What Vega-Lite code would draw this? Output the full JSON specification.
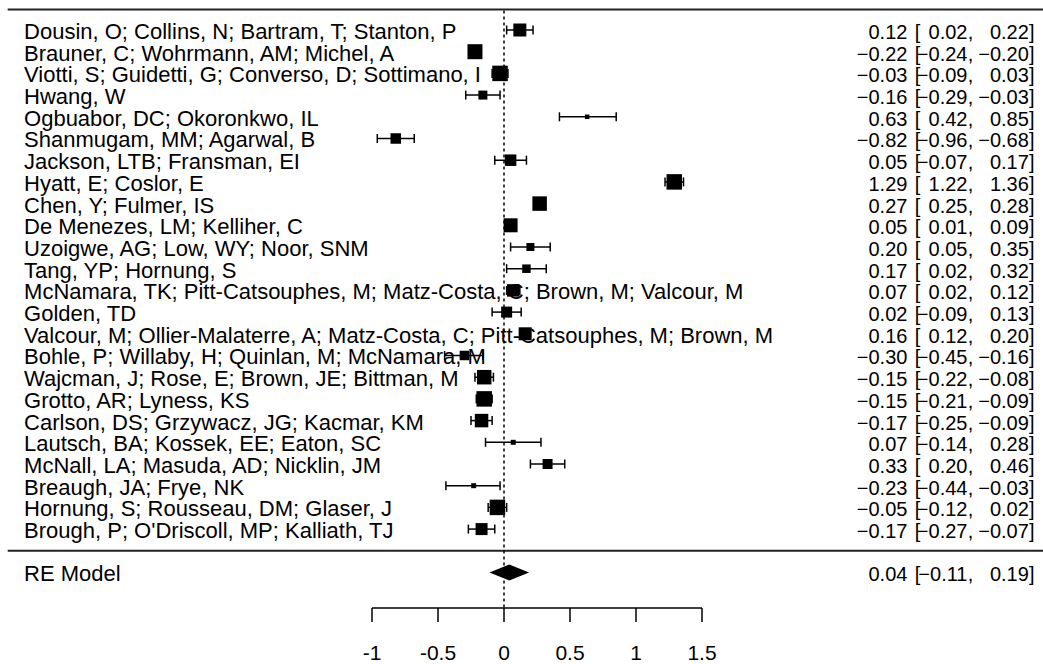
{
  "$schema": "https://vega.github.io/schema/vega-lite/v6.json",
  "width": 1043,
  "height": 664,
  "padding": 0,
  "autosize": {"type": "none"},
  "background": "white",
  "config": {"view": {"stroke": null}},
  "datasets": {
    "studies": [
      {"row": 24, "study": "Dousin, O; Collins, N; Bartram, T; Stanton, P", "est": 0.12, "lo": 0.02, "hi": 0.22, "weight": 13},
      {"row": 23, "study": "Brauner, C; Wohrmann, AM; Michel, A", "est": -0.22, "lo": -0.24, "hi": -0.20, "weight": 15},
      {"row": 22, "study": "Viotti, S; Guidetti, G; Converso, D; Sottimano, I", "est": -0.03, "lo": -0.09, "hi": 0.03, "weight": 15.5},
      {"row": 21, "study": "Hwang, W", "est": -0.16, "lo": -0.29, "hi": -0.03, "weight": 9},
      {"row": 20, "study": "Ogbuabor, DC; Okoronkwo, IL", "est": 0.63, "lo": 0.42, "hi": 0.85, "weight": 4.5},
      {"row": 19, "study": "Shanmugam, MM; Agarwal, B", "est": -0.82, "lo": -0.96, "hi": -0.68, "weight": 10.5},
      {"row": 18, "study": "Jackson, LTB; Fransman, EI", "est": 0.05, "lo": -0.07, "hi": 0.17, "weight": 11.5},
      {"row": 17, "study": "Hyatt, E; Coslor, E", "est": 1.29, "lo": 1.22, "hi": 1.36, "weight": 15.5},
      {"row": 16, "study": "Chen, Y; Fulmer, IS", "est": 0.27, "lo": 0.25, "hi": 0.28, "weight": 14.5},
      {"row": 15, "study": "De Menezes, LM; Kelliher, C", "est": 0.05, "lo": 0.01, "hi": 0.09, "weight": 14},
      {"row": 14, "study": "Uzoigwe, AG; Low, WY; Noor, SNM", "est": 0.20, "lo": 0.05, "hi": 0.35, "weight": 8},
      {"row": 13, "study": "Tang, YP; Hornung, S", "est": 0.17, "lo": 0.02, "hi": 0.32, "weight": 8.5},
      {"row": 12, "study": "McNamara, TK; Pitt-Catsouphes, M; Matz-Costa, C; Brown, M; Valcour, M", "est": 0.07, "lo": 0.02, "hi": 0.12, "weight": 12.5},
      {"row": 11, "study": "Golden, TD", "est": 0.02, "lo": -0.09, "hi": 0.13, "weight": 11},
      {"row": 10, "study": "Valcour, M; Ollier-Malaterre, A; Matz-Costa, C; Pitt-Catsouphes, M; Brown, M", "est": 0.16, "lo": 0.12, "hi": 0.20, "weight": 13},
      {"row": 9, "study": "Bohle, P; Willaby, H; Quinlan, M; McNamara, M", "est": -0.30, "lo": -0.45, "hi": -0.16, "weight": 9.5},
      {"row": 8, "study": "Wajcman, J; Rose, E; Brown, JE; Bittman, M", "est": -0.15, "lo": -0.22, "hi": -0.08, "weight": 14.5},
      {"row": 7, "study": "Grotto, AR; Lyness, KS", "est": -0.15, "lo": -0.21, "hi": -0.09, "weight": 15.5},
      {"row": 6, "study": "Carlson, DS; Grzywacz, JG; Kacmar, KM", "est": -0.17, "lo": -0.25, "hi": -0.09, "weight": 13.5},
      {"row": 5, "study": "Lautsch, BA; Kossek, EE; Eaton, SC", "est": 0.07, "lo": -0.14, "hi": 0.28, "weight": 5},
      {"row": 4, "study": "McNall, LA; Masuda, AD; Nicklin, JM", "est": 0.33, "lo": 0.20, "hi": 0.46, "weight": 10},
      {"row": 3, "study": "Breaugh, JA; Frye, NK", "est": -0.23, "lo": -0.44, "hi": -0.03, "weight": 5},
      {"row": 2, "study": "Hornung, S; Rousseau, DM; Glaser, J", "est": -0.05, "lo": -0.12, "hi": 0.02, "weight": 15.5},
      {"row": 1, "study": "Brough, P; O'Driscoll, MP; Kalliath, TJ", "est": -0.17, "lo": -0.27, "hi": -0.07, "weight": 12}
    ],
    "summary": [
      {"row": -1, "study": "RE Model", "est": 0.04, "lo": -0.11, "hi": 0.19}
    ],
    "diamond": [
      {"x": -0.11, "top": -1, "bottom": -1},
      {"x": 0.04, "top": -0.63, "bottom": -1.37},
      {"x": 0.19, "top": -1, "bottom": -1}
    ],
    "ticks": [
      {"v": -1, "lab": "-1"},
      {"v": -0.5, "lab": "-0.5"},
      {"v": 0, "lab": "0"},
      {"v": 0.5, "lab": "0.5"},
      {"v": 1, "lab": "1"},
      {"v": 1.5, "lab": "1.5"}
    ],
    "one": [{}]
  },
  "layer": [
    {
      "data": {"name": "one"},
      "mark": {"type": "rule", "color": "#222222", "strokeWidth": 2},
      "encoding": {
        "x": {"datum": -3.76, "type": "quantitative", "scale": {"domain": [-3.8182, 4.0833], "nice": false, "zero": false}, "axis": null},
        "x2": {"datum": 4.0833},
        "y": {"datum": 24.95, "type": "quantitative", "scale": {"domain": [-5.217, 25.3825], "nice": false, "zero": false}, "axis": null}
      }
    },
    {
      "data": {"name": "one"},
      "mark": {"type": "rule", "color": "#222222", "strokeWidth": 2},
      "encoding": {
        "x": {"datum": -3.76, "type": "quantitative"},
        "x2": {"datum": 4.0833},
        "y": {"datum": 0, "type": "quantitative"}
      }
    },
    {
      "data": {"name": "one"},
      "mark": {"type": "rule", "color": "black", "strokeWidth": 1.5, "strokeDash": [3, 3]},
      "encoding": {
        "x": {"datum": 0, "type": "quantitative"},
        "y": {"datum": 24.9, "type": "quantitative"},
        "y2": {"datum": -2.636}
      }
    },
    {
      "data": {"name": "studies"},
      "mark": {"type": "rule", "color": "black", "strokeWidth": 1.5},
      "encoding": {
        "x": {"field": "lo", "type": "quantitative"},
        "x2": {"field": "hi"},
        "y": {"field": "row", "type": "quantitative"}
      }
    },
    {
      "data": {"name": "studies"},
      "mark": {"type": "tick", "orient": "vertical", "color": "black", "thickness": 1.5, "size": 9, "opacity": 1},
      "encoding": {
        "x": {"field": "lo", "type": "quantitative"},
        "y": {"field": "row", "type": "quantitative"}
      }
    },
    {
      "data": {"name": "studies"},
      "mark": {"type": "tick", "orient": "vertical", "color": "black", "thickness": 1.5, "size": 9, "opacity": 1},
      "encoding": {
        "x": {"field": "hi", "type": "quantitative"},
        "y": {"field": "row", "type": "quantitative"}
      }
    },
    {
      "data": {"name": "studies"},
      "mark": {"type": "point", "shape": "square", "filled": true, "color": "black", "opacity": 1, "strokeWidth": 0},
      "encoding": {
        "x": {"field": "est", "type": "quantitative"},
        "y": {"field": "row", "type": "quantitative"},
        "size": {"field": "weight", "type": "quantitative", "scale": {"type": "pow", "exponent": 2, "domain": [0, 16], "range": [0, 256]}, "legend": null}
      }
    },
    {
      "data": {"name": "diamond"},
      "mark": {"type": "area", "orient": "vertical", "color": "black", "opacity": 1},
      "encoding": {
        "x": {"field": "x", "type": "quantitative"},
        "y": {"field": "top", "type": "quantitative"},
        "y2": {"field": "bottom"}
      }
    },
    {
      "data": {"name": "studies"},
      "mark": {"type": "text", "align": "left", "baseline": "alphabetic", "dy": 9, "font": "Liberation Sans", "fontSize": 22, "color": "black"},
      "encoding": {
        "x": {"datum": -3.636, "type": "quantitative"},
        "y": {"field": "row", "type": "quantitative"},
        "text": {"field": "study"}
      }
    },
    {
      "data": {"name": "summary"},
      "mark": {"type": "text", "align": "left", "baseline": "alphabetic", "dy": 9, "font": "Liberation Sans", "fontSize": 22, "color": "black"},
      "encoding": {
        "x": {"datum": -3.636, "type": "quantitative"},
        "y": {"field": "row", "type": "quantitative"},
        "text": {"field": "study"}
      }
    },
    {
      "data": {"name": "studies"},
      "mark": {"type": "text", "align": "right", "baseline": "alphabetic", "dy": 9, "font": "Liberation Sans", "fontSize": 20, "color": "black"},
      "encoding": {
        "x": {"datum": 3.056, "type": "quantitative"},
        "y": {"field": "row", "type": "quantitative"},
        "text": {"field": "est", "format": ".2f"}
      }
    },
    {
      "data": {"name": "summary"},
      "mark": {"type": "text", "align": "right", "baseline": "alphabetic", "dy": 9, "font": "Liberation Sans", "fontSize": 20, "color": "black"},
      "encoding": {
        "x": {"datum": 3.056, "type": "quantitative"},
        "y": {"field": "row", "type": "quantitative"},
        "text": {"field": "est", "format": ".2f"}
      }
    },
    {
      "data": {"name": "studies"},
      "mark": {"type": "text", "align": "left", "baseline": "alphabetic", "dy": 9, "font": "Liberation Sans", "fontSize": 20, "color": "black", "text": "["},
      "encoding": {
        "x": {"datum": 3.112, "type": "quantitative"},
        "y": {"field": "row", "type": "quantitative"}
      }
    },
    {
      "data": {"name": "summary"},
      "mark": {"type": "text", "align": "left", "baseline": "alphabetic", "dy": 9, "font": "Liberation Sans", "fontSize": 20, "color": "black", "text": "["},
      "encoding": {
        "x": {"datum": 3.112, "type": "quantitative"},
        "y": {"field": "row", "type": "quantitative"}
      }
    },
    {
      "data": {"name": "studies"},
      "mark": {"type": "text", "align": "right", "baseline": "alphabetic", "dy": 9, "font": "Liberation Sans", "fontSize": 20, "color": "black"},
      "encoding": {
        "x": {"datum": 3.511, "type": "quantitative"},
        "y": {"field": "row", "type": "quantitative"},
        "text": {"field": "lo", "format": ".2f"}
      }
    },
    {
      "data": {"name": "summary"},
      "mark": {"type": "text", "align": "right", "baseline": "alphabetic", "dy": 9, "font": "Liberation Sans", "fontSize": 20, "color": "black"},
      "encoding": {
        "x": {"datum": 3.511, "type": "quantitative"},
        "y": {"field": "row", "type": "quantitative"},
        "text": {"field": "lo", "format": ".2f"}
      }
    },
    {
      "data": {"name": "studies"},
      "mark": {"type": "text", "align": "left", "baseline": "alphabetic", "dy": 9, "font": "Liberation Sans", "fontSize": 20, "color": "black", "text": ","},
      "encoding": {
        "x": {"datum": 3.513, "type": "quantitative"},
        "y": {"field": "row", "type": "quantitative"}
      }
    },
    {
      "data": {"name": "summary"},
      "mark": {"type": "text", "align": "left", "baseline": "alphabetic", "dy": 9, "font": "Liberation Sans", "fontSize": 20, "color": "black", "text": ","},
      "encoding": {
        "x": {"datum": 3.513, "type": "quantitative"},
        "y": {"field": "row", "type": "quantitative"}
      }
    },
    {
      "data": {"name": "studies"},
      "mark": {"type": "text", "align": "right", "baseline": "alphabetic", "dy": 9, "font": "Liberation Sans", "fontSize": 20, "color": "black"},
      "encoding": {
        "x": {"datum": 3.976, "type": "quantitative"},
        "y": {"field": "row", "type": "quantitative"},
        "text": {"field": "hi", "format": ".2f"}
      }
    },
    {
      "data": {"name": "summary"},
      "mark": {"type": "text", "align": "right", "baseline": "alphabetic", "dy": 9, "font": "Liberation Sans", "fontSize": 20, "color": "black"},
      "encoding": {
        "x": {"datum": 3.976, "type": "quantitative"},
        "y": {"field": "row", "type": "quantitative"},
        "text": {"field": "hi", "format": ".2f"}
      }
    },
    {
      "data": {"name": "studies"},
      "mark": {"type": "text", "align": "left", "baseline": "alphabetic", "dy": 9, "font": "Liberation Sans", "fontSize": 20, "color": "black", "text": "]"},
      "encoding": {
        "x": {"datum": 3.978, "type": "quantitative"},
        "y": {"field": "row", "type": "quantitative"}
      }
    },
    {
      "data": {"name": "summary"},
      "mark": {"type": "text", "align": "left", "baseline": "alphabetic", "dy": 9, "font": "Liberation Sans", "fontSize": 20, "color": "black", "text": "]"},
      "encoding": {
        "x": {"datum": 3.978, "type": "quantitative"},
        "y": {"field": "row", "type": "quantitative"}
      }
    },
    {
      "data": {"name": "one"},
      "mark": {"type": "rule", "color": "black", "strokeWidth": 1.5},
      "encoding": {
        "x": {"datum": -1, "type": "quantitative"},
        "x2": {"datum": 1.5},
        "y": {"datum": -2.636, "type": "quantitative"}
      }
    },
    {
      "data": {"name": "ticks"},
      "mark": {"type": "rule", "color": "black", "strokeWidth": 1.5},
      "encoding": {
        "x": {"field": "v", "type": "quantitative"},
        "y": {"datum": -2.636, "type": "quantitative"},
        "y2": {"datum": -3.281}
      }
    },
    {
      "data": {"name": "ticks"},
      "mark": {"type": "text", "align": "center", "baseline": "alphabetic", "dy": 7.5, "font": "Liberation Sans", "fontSize": 21, "color": "black"},
      "encoding": {
        "x": {"field": "v", "type": "quantitative"},
        "y": {"datum": -4.7, "type": "quantitative"},
        "text": {"field": "lab"}
      }
    }
  ]
}
